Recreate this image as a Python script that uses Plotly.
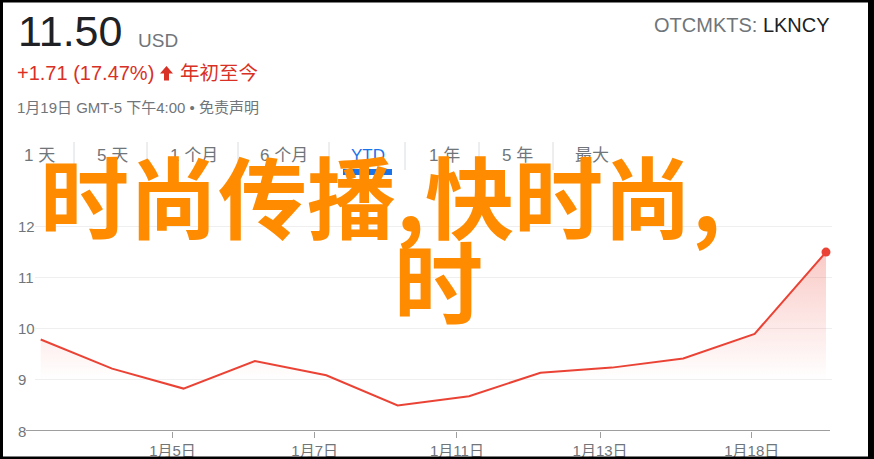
import plotly.graph_objects as go

# ---------------- data ----------------
dates = ["12月31日", "1月4日", "1月5日", "1月6日", "1月7日", "1月8日",
         "1月11日", "1月12日", "1月13日", "1月14日", "1月15日", "1月19日"]
prices = [9.79, 9.22, 8.83, 9.37, 9.09, 8.50, 8.68, 9.14, 9.24, 9.42, 9.90, 11.50]
x_tick_labels = ["1月5日", "1月7日", "1月11日", "1月13日", "1月18日"]
y_tick_values = [8, 9, 10, 11, 12]
tab_labels = ["1 天", "5 天", "1 个月", "6 个月", "YTD", "1 年", "5 年", "最大"]
price_text = "11.50"
currency = "USD"
change_text = "+1.71 (17.47%)"
period_text = "年初至今"
date_text = "1月19日 GMT-5 下午4:00 • 免责声明"
exchange = "OTCMKTS: "
ticker = "LKNCY"
overlay_line1 = "时尚传播,快时尚,"
overlay_line2 = "时"

# ---------------- layout constants ----------------
W, H = 874, 459
L, R, T, B = 35, 42, 201, 28
PW, PH = W - L - R, H - T - B
x_tick_pos = [1.846, 3.838, 5.83, 7.835, 9.96]
tab_centers = [39, 112, 193.5, 284, 368, 444, 517, 591.5]
tab_seps = [74, 147, 238, 329, 405, 479, 553]

RED = "#ea4335"
UPRED = "#d93025"
GRAY = "#70757a"
DARK = "#202124"
LATIN = "Liberation Sans, Arial, Noto Sans CJK SC"
CJK = "Noto Sans CJK SC"


def px(x):
    return (x - L) / PW


def py(y):
    return (H - B - y) / PH


xs = list(range(len(prices)))

fig = go.Figure()
fig.add_trace(go.Scatter(
    x=xs, y=prices, mode="lines",
    line=dict(color=RED, width=2),
    fill="tozeroy",
    fillgradient=dict(type="vertical", start=9.0, stop=11.5,
                      colorscale=[[0, "rgba(234,67,53,0)"], [1, "rgba(234,67,53,0.28)"]]),
    text=dates, hoverinfo="text+y", showlegend=False,
))
fig.add_trace(go.Scatter(
    x=[xs[-1]], y=[prices[-1]], mode="markers",
    marker=dict(color=RED, size=9), showlegend=False, hoverinfo="skip",
))

annotations = []
# y labels (left aligned)
for v in y_tick_values:
    annotations.append(dict(x=px(16), y=v, xref="paper", yref="y", text=str(v),
                            showarrow=False, xanchor="left", yanchor="middle",
                            font=dict(family=LATIN, size=15, color=GRAY)))

# header texts
annotations += [
    dict(x=px(16), y=py(31), text=price_text, font=dict(family=LATIN, size=43, color=DARK),
         xanchor="left", yanchor="middle"),
    dict(x=px(136), y=py(40), text=currency, font=dict(family=LATIN, size=19, color=GRAY),
         xanchor="left", yanchor="middle"),
    dict(x=px(15), y=py(73), text=change_text,
         font=dict(family=LATIN, size=20, color=UPRED),
         xanchor="left", yanchor="middle"),
    dict(x=px(178), y=py(73), text=period_text,
         font=dict(family=LATIN, size=19.5, color=UPRED),
         xanchor="left", yanchor="middle"),
    dict(x=px(15), y=py(108), text=date_text, font=dict(family=LATIN, size=15, color=GRAY),
         xanchor="left", yanchor="middle"),
    dict(x=px(832), y=py(25),
         text=exchange + f"<span style='color:{DARK}'>{ticker}</span>",
         font=dict(family=LATIN, size=20, color=GRAY),
         xanchor="right", yanchor="middle"),
]
# tabs
for lab, cx in zip(tab_labels, tab_centers):
    annotations.append(dict(x=px(cx), y=py(155), text=lab,
                            font=dict(family=LATIN, size=17,
                                      color="#1a73e8" if lab == "YTD" else GRAY),
                            xanchor="center", yanchor="middle"))
# overlay
annotations += [
    dict(x=px(38), y=py(193), text=overlay_line1,
         font=dict(family=CJK, size=89, color="#ff8c00", weight="bold"),
         xanchor="left", yanchor="middle"),
    dict(x=px(438), y=py(278), text=overlay_line2,
         font=dict(family=CJK, size=89, color="#ff8c00", weight="bold"),
         xanchor="center", yanchor="middle"),
]
for a in annotations:
    a.setdefault("xref", "paper")
    a.setdefault("yref", "paper")
    a["showarrow"] = False

shapes = []
# baseline
shapes.append(dict(type="line", xref="paper", yref="y", x0=px(26), x1=px(830), y0=8, y1=8,
                   line=dict(color="#9e9e9e", width=2), layer="above"))
# up arrow icon
arrow_pts = [(166.5, 66), (173, 73.5), (169, 73.5), (169, 80.5), (164, 80.5),
             (164, 73.5), (160, 73.5)]
path = "M " + " L ".join(f"{px(a):.5f},{py(b):.5f}" for a, b in arrow_pts) + " Z"
shapes.append(dict(type="path", xref="paper", yref="paper", path=path,
                   fillcolor=UPRED, line=dict(width=0)))
# tab separators
for sx in tab_seps:
    shapes.append(dict(type="line", xref="paper", yref="paper", x0=px(sx), x1=px(sx),
                       y0=py(142), y1=py(170), line=dict(color="#dadce0", width=1)))
# YTD underline
shapes.append(dict(type="rect", xref="paper", yref="paper", x0=px(343), x1=px(392),
                   y0=py(169), y1=py(175), fillcolor="#1a73e8", line=dict(width=0)))
# black frame
for (x0, y0, x1, y1) in [(0, 0, W, 2.5), (0, 0, 3, H), (868, 0, W, H), (0, 456.5, W, H)]:
    shapes.append(dict(type="rect", xref="paper", yref="paper", x0=px(x0), x1=px(x1),
                       y0=py(y0), y1=py(y1), fillcolor="black", line=dict(width=0),
                       layer="above"))

fig.update_layout(
    template="none",
    width=W, height=H, autosize=False,
    margin=dict(l=L, r=R, t=T, b=B, pad=0, autoexpand=False),
    paper_bgcolor="white", plot_bgcolor="white",
    showlegend=False,
    xaxis=dict(range=[-0.08, 11.084], showgrid=False, zeroline=False, showline=False,
               automargin=False,
               tickmode="array", tickvals=x_tick_pos, ticktext=x_tick_labels,
               ticks="outside", ticklen=6, tickwidth=1, tickcolor="#9e9e9e",
               tickfont=dict(family=LATIN, size=15, color=GRAY), fixedrange=True),
    yaxis=dict(range=[8, 12.5], showgrid=True, gridcolor="#efefef", gridwidth=1,
               automargin=False,
               tickmode="array", tickvals=y_tick_values, showticklabels=False,
               zeroline=False, showline=False, fixedrange=True),
    annotations=annotations,
    shapes=shapes,
)

post = (
    "document.documentElement.style.margin='0';"
    "document.documentElement.style.overflow='hidden';"
    "document.body.style.margin='0';"
    "document.body.style.padding='0';"
    "document.body.style.overflow='hidden';"
    "var d=document.getElementById('{plot_id}');"
    "d.style.position='absolute';d.style.left='0px';d.style.top='0px';"
)

fig.write_html("out.html", config={"displayModeBar": False}, post_script=post)
